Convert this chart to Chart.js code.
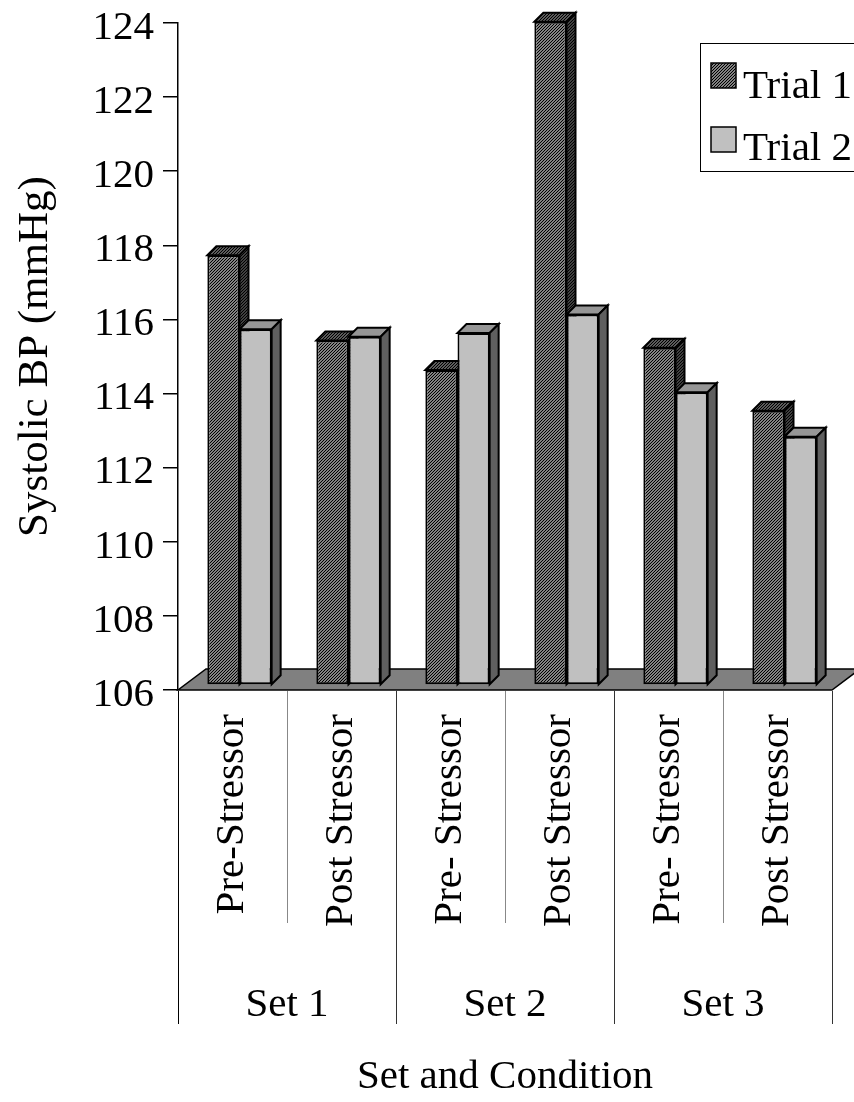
<!DOCTYPE html>
<html>
<head>
<meta charset="utf-8">
<script src="https://cdn.jsdelivr.net/npm/chart.js@4.4.0/dist/chart.umd.min.js"></script>
<style>
  html, body { margin: 0; padding: 0; background: #fff; overflow: hidden; }
</style>
</head>
<body>
<canvas id="myChart" width="854" height="1102"></canvas>
<script>
// data
const conditions = ["Pre-Stressor", "Post Stressor", "Pre- Stressor", "Post Stressor", "Pre- Stressor", "Post Stressor"];
const sets = ["Set 1", "Set 2", "Set 3"];
const trial1 = [117.6, 115.3, 114.5, 123.9, 115.1, 113.4];
const trial2 = [115.6, 115.4, 115.5, 116.0, 113.9, 112.7];
const seriesNames = ["Trial 1", "Trial 2"];
const yMin = 106;
const yMax = 124;
const yStep = 2;

const FONT = '"Liberation Serif", "Times New Roman", serif';
const DEPTH = 9;          // bar depth in px
const SHIFT_X = 7;        // bars sit a little behind the floor front edge
const SHIFT_Y = -5;
const FLOOR_DX = 28;
const FLOOR_DY = 21;

const canvas = document.getElementById("myChart");
const ctx0 = canvas.getContext("2d");

function hatch(bg, line) {
  const c = document.createElement("canvas");
  c.width = 3;
  c.height = 3;
  const g = c.getContext("2d");
  g.fillStyle = bg;
  g.fillRect(0, 0, 3, 3);
  g.fillStyle = line;
  g.fillRect(2, 0, 1, 1);
  g.fillRect(1, 1, 1, 1);
  g.fillRect(0, 2, 1, 1);
  return ctx0.createPattern(c, "repeat");
}

const darkFront = hatch("#828282", "#000");
const darkTop = hatch("#5c5c5c", "#000");
const darkSide = hatch("#404040", "#000");
const lightFront = "#c0c0c0";
const lightTop = "#969696";
const lightSide = "#5f5f5f";

function drawFaces(ctx, bar, topFill, sideFill) {
  const { x, y, width, base } = bar.getProps(["x", "y", "width", "base"], true);
  const l = x - width / 2;
  const r = x + width / 2;
  ctx.lineWidth = 2;
  ctx.strokeStyle = "#000";
  ctx.lineJoin = "miter";

  ctx.beginPath();
  ctx.moveTo(l, y);
  ctx.lineTo(l + DEPTH, y - DEPTH);
  ctx.lineTo(r + DEPTH, y - DEPTH);
  ctx.lineTo(r, y);
  ctx.closePath();
  ctx.fillStyle = topFill;
  ctx.fill();
  ctx.stroke();

  ctx.beginPath();
  ctx.moveTo(r, y);
  ctx.lineTo(r + DEPTH, y - DEPTH);
  ctx.lineTo(r + DEPTH, base - DEPTH);
  ctx.lineTo(r, base);
  ctx.closePath();
  ctx.fillStyle = sideFill;
  ctx.fill();
  ctx.stroke();
}

const bars3d = {
  id: "bars3d",
  beforeDatasetsDraw(chart) {
    const { ctx, chartArea } = chart;
    const y0 = chart.scales.y.getPixelForValue(yMin);

    // grey floor
    ctx.save();
    ctx.beginPath();
    ctx.moveTo(chartArea.left, y0);
    ctx.lineTo(chartArea.right, y0);
    ctx.lineTo(chartArea.right + FLOOR_DX, y0 - FLOOR_DY);
    ctx.lineTo(chartArea.left + FLOOR_DX, y0 - FLOOR_DY);
    ctx.closePath();
    ctx.fillStyle = "#808080";
    ctx.fill();
    ctx.lineWidth = 1.5;
    ctx.strokeStyle = "#000";
    ctx.stroke();
    ctx.restore();

    ctx.save();
    ctx.translate(SHIFT_X, SHIFT_Y);
    chart.getDatasetMeta(0).data.forEach((bar) => drawFaces(ctx, bar, darkTop, darkSide));
  },
  afterDatasetsDraw(chart) {
    const ctx = chart.ctx;
    chart.getDatasetMeta(1).data.forEach((bar) => drawFaces(ctx, bar, lightTop, lightSide));
    ctx.restore();
  },
  afterDraw(chart) {
    const { ctx, chartArea } = chart;
    const xs = chart.scales.x;
    const x2 = chart.scales.x2;
    const n = conditions.length;
    const half = (xs.getPixelForValue(1) - xs.getPixelForValue(0)) / 2;

    // category / set separators
    ctx.save();
    ctx.lineWidth = 1;
    for (let i = 0; i <= n; i++) {
      const px = Math.round(i < n ? xs.getPixelForValue(i) - half : xs.getPixelForValue(n - 1) + half) + 0.5;
      const long = i % 2 === 0;
      ctx.strokeStyle = i === 0 ? "#000" : long ? "#333" : "#888";
      ctx.beginPath();
      ctx.moveTo(px, chartArea.bottom + 1);
      ctx.lineTo(px, long ? x2.top + 89 : xs.bottom - 12);
      ctx.stroke();
    }
    ctx.restore();

    // legend (runs off the right edge like the original)
    const lx = chartArea.right - 132;
    const ly = chartArea.top + 20;
    ctx.save();
    ctx.fillStyle = "#fff";
    ctx.fillRect(lx, ly, 220, 128);
    ctx.strokeStyle = "#000";
    ctx.lineWidth = 1;
    ctx.strokeRect(lx + 0.5, ly + 0.5, 220, 128);
    const fills = [darkFront, lightFront];
    seriesNames.forEach((name, i) => {
      const my = ly + 20 + 64 * i;
      ctx.fillStyle = fills[i];
      ctx.fillRect(lx + 11, my, 25, 25);
      ctx.lineWidth = 1.5;
      ctx.strokeRect(lx + 11, my, 25, 25);
      ctx.fillStyle = "#000";
      ctx.font = "41px " + FONT;
      ctx.textBaseline = "alphabetic";
      ctx.textAlign = "left";
      ctx.fillText(name, lx + 43, ly + 55 + 62 * i);
    });
    ctx.restore();
  },
};

const tickFont = { family: FONT, size: 41, lineHeight: 1 };

const config = {
  type: "bar",
  data: {
    labels: conditions,
    datasets: [
      {
        label: seriesNames[0],
        data: trial1,
        base: yMin,
        backgroundColor: darkFront,
        borderColor: "#000",
        borderWidth: 2,
        borderSkipped: false,
        clip: false,
      },
      {
        label: seriesNames[1],
        data: trial2,
        base: yMin,
        backgroundColor: lightFront,
        borderColor: "#000",
        borderWidth: 2,
        borderSkipped: false,
        clip: false,
      },
    ],
  },
  options: {
    responsive: false,
    animation: false,
    events: [],
    layout: { padding: { top: 23, right: 22, bottom: 0, left: 0 } },
    datasets: {
      bar: { categoryPercentage: 0.59, barPercentage: 1.0 },
    },
    plugins: {
      legend: { display: false },
      tooltip: { enabled: false },
    },
    scales: {
      y: {
        min: yMin,
        max: yMax,
        afterFit: (scale) => {
          scale.width = 178;
          scale.paddingTop = 0;
          scale.paddingBottom = 0;
        },
        ticks: {
          stepSize: yStep,
          color: "#000",
          font: tickFont,
          padding: 9,
          labelOffset: 5,
        },
        grid: {
          drawOnChartArea: false,
          drawTicks: true,
          tickLength: 15,
          color: "#000",
          lineWidth: 1.5,
        },
        border: { display: true, color: "#000", width: 1.5 },
        title: {
          display: true,
          text: "Systolic BP (mmHg)",
          color: "#000",
          font: { family: FONT, size: 43 },
          padding: { top: 10, bottom: 0 },
        },
      },
      x: {
        weight: 0,
        afterFit: (scale) => {
          scale.height = 245;
          scale.paddingLeft = 0;
          scale.paddingRight = 0;
        },
        grid: { display: false },
        border: { display: false },
        ticks: {
          autoSkip: false,
          minRotation: 90,
          maxRotation: 90,
          padding: 16,
          color: "#000",
          font: tickFont,
        },
      },
      x2: {
        type: "category",
        axis: "x",
        position: "bottom",
        weight: 1,
        labels: sets,
        offset: true,
        afterFit: (scale) => {
          scale.height = 167;
          scale.paddingLeft = 0;
          scale.paddingRight = 0;
        },
        grid: { display: false },
        border: { display: false },
        ticks: {
          padding: 38,
          color: "#000",
          font: { family: FONT, size: 41 },
        },
        title: {
          display: true,
          text: "Set and Condition",
          color: "#000",
          font: { family: FONT, size: 41 },
          padding: { top: 0, bottom: 0 },
        },
      },
    },
  },
  plugins: [bars3d],
};

var myChart = new Chart(canvas, config);
</script>
</body>
</html>
